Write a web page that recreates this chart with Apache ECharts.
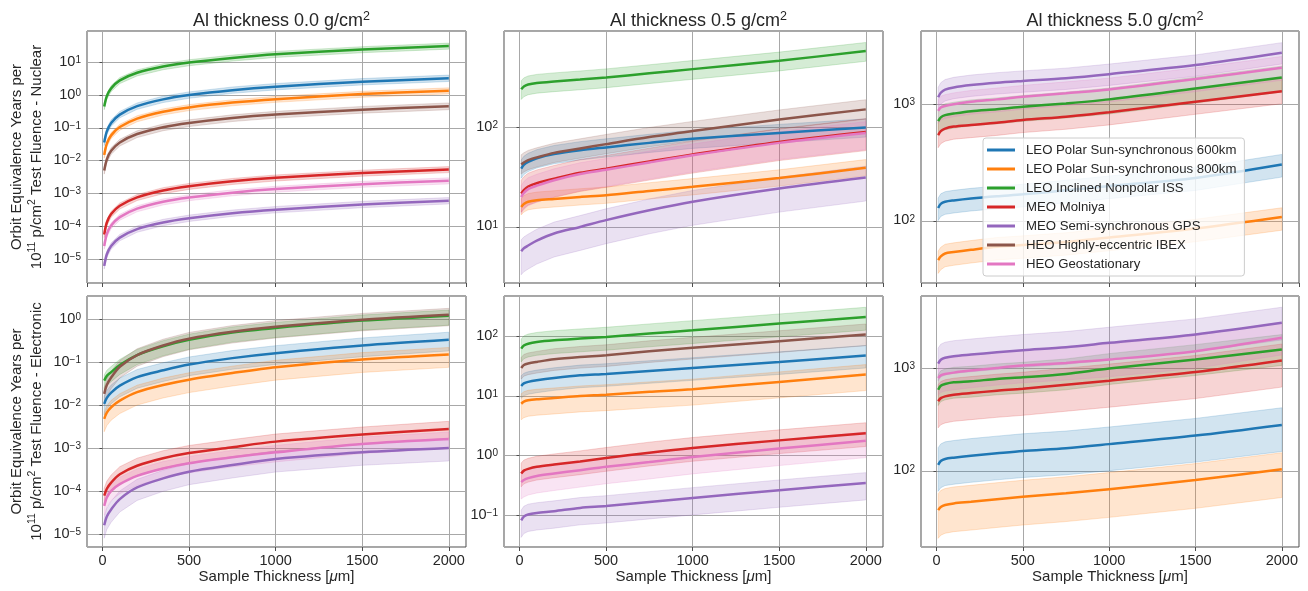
<!DOCTYPE html>
<html>
<head>
<meta charset="utf-8">
<script src="https://cdn.jsdelivr.net/npm/echarts@6/dist/echarts.min.js"></script>
<style>
html, body { margin: 0; padding: 0; background: #fff; }
#chart { width: 1308px; height: 591px; }
</style>
</head>
<body>
<div id="chart"></div>
<script>
// sample thickness [um]
var thickness = [10, 25, 50, 100, 200, 350, 500, 750, 1000, 1500, 2000];

var orbitNames = [
    'LEO Polar Sun-synchronous 600km',
    'LEO Polar Sun-synchronous 800km',
    'LEO Inclined Nonpolar ISS',
    'MEO Molniya',
    'MEO Semi-synchronous GPS',
    'HEO Highly-eccentric IBEX',
    'HEO Geostationary'
];
var orbitColors = ['#1f77b4', '#ff7f0e', '#2ca02c', '#d62728', '#9467bd', '#8c564b', '#e377c2'];
var alLabels = ['0.0', '0.5', '5.0'];

// ==========================
// Nuclear, rows follow orbitNames
// ==========================
var nuc00 = [
    [0.036, 0.078, 0.141, 0.254, 0.46, 0.74, 1.0, 1.41, 1.8, 2.55, 3.25],
    [0.015, 0.033, 0.059, 0.106, 0.192, 0.31, 0.42, 0.59, 0.75, 1.07, 1.36],
    [0.45, 0.93, 1.6, 2.8, 4.8, 7.4, 9.8, 13.6, 17.6, 24.5, 31.5],
    [5.6e-5, 1.3e-4, 2.35e-4, 4.2e-4, 7.6e-4, 1.23e-3, 1.66e-3, 2.35e-3, 3.0e-3, 4.2e-3, 5.4e-3],
    [6.2e-6, 1.4e-5, 2.5e-5, 4.5e-5, 8.2e-5, 1.3e-4, 1.75e-4, 2.5e-4, 3.2e-4, 4.6e-4, 6.0e-4],
    [0.005, 0.011, 0.020, 0.036, 0.065, 0.105, 0.141, 0.20, 0.255, 0.36, 0.46],
    [2.5e-5, 5.8e-5, 1.05e-4, 1.9e-4, 3.45e-4, 5.6e-4, 7.5e-4, 1.06e-3, 1.36e-3, 1.92e-3, 2.45e-3]
];
var nuc00Lo = [0.8, 0.8, 0.8, 0.8, 0.8, 0.78, 0.8];
var nuc00Hi = [1.25, 1.22, 1.22, 1.22, 1.25, 1.25, 1.22];

var nuc05 = [
    [38.6, 42, 45, 49, 54, 59, 63, 70, 77, 88, 100],
    [15.9, 17, 17.9, 18.5, 19.1, 20, 20.8, 23, 25.3, 31, 39.3],
    [242, 258, 270, 280, 290, 303, 318, 350, 386, 469, 586],
    [21.7, 23.5, 25.5, 27.5, 30.5, 35, 38.5, 45.5, 53.5, 71.5, 90],
    [5.7, 6.1, 6.5, 7.3, 8.6, 10, 11.7, 14.7, 17.9, 24.3, 31.4],
    [42.5, 44.5, 47, 50, 55.5, 61.5, 68, 80, 92, 120, 152],
    [20, 22, 24, 26, 29.5, 34, 37.5, 44.5, 52.5, 70, 88]
];
var nuc05Lo = [0.8, 0.83, 0.79, 0.65, 0.58, 0.8, 0.68];
var nuc05Hi = [1.22, 1.21, 1.22, 1.36, 1.3, 1.25, 1.3];

var nuc50 = [
    [129, 140, 146, 150, 156, 163, 169, 183, 199, 234, 305],
    [46, 49.5, 52.5, 54, 56.5, 60, 62, 66, 72, 86, 108],
    [720, 775, 810, 835, 875, 910, 955, 1020, 1105, 1370, 1705],
    [545, 590, 620, 645, 665, 695, 735, 785, 855, 1055, 1300],
    [1150, 1260, 1340, 1400, 1465, 1535, 1590, 1680, 1820, 2180, 2780],
    null,
    [880, 940, 970, 1005, 1055, 1105, 1165, 1250, 1345, 1650, 2065]
];
var nuc50Lo = [0.78, 0.77, 0.75, 0.78, 0.8, 1, 0.78];
var nuc50Hi = [1.22, 1.2, 1.25, 1.3, 1.22, 1, 1.25];

// ==========================
// Electronic
// ==========================
var ele00 = [
    [0.0109, 0.015, 0.020, 0.029, 0.046, 0.066, 0.09, 0.127, 0.165, 0.25, 0.34],
    [0.0049, 0.0068, 0.0091, 0.013, 0.0205, 0.030, 0.040, 0.057, 0.078, 0.118, 0.155],
    [0.038, 0.049, 0.060, 0.088, 0.15, 0.24, 0.34, 0.50, 0.64, 0.95, 1.24],
    [7.9e-5, 1.15e-4, 1.6e-4, 2.5e-4, 3.95e-4, 5.9e-4, 7.8e-4, 1.07e-3, 1.44e-3, 2.1e-3, 2.85e-3],
    [1.62e-5, 2.6e-5, 3.8e-5, 6.6e-5, 1.23e-4, 2.0e-4, 2.86e-4, 4.1e-4, 5.65e-4, 8.1e-4, 1.02e-3],
    [0.0187, 0.030, 0.045, 0.080, 0.15, 0.25, 0.36, 0.52, 0.68, 1.0, 1.31],
    [4.6e-5, 7.2e-5, 1.03e-4, 1.47e-4, 2.3e-4, 3.4e-4, 4.5e-4, 6.2e-4, 8.1e-4, 1.27e-3, 1.66e-3]
];
var ele00Lo = [0.55, 0.5, 0.6, 0.6, 0.5, 0.55, 0.6];
var ele00Hi = [1.5, 1.45, 1.35, 1.5, 1.55, 1.4, 1.45];

var ele05 = [
    [14.7, 16.2, 17.2, 18.3, 20, 22.2, 23.4, 26.3, 29.5, 37, 47.4],
    [7.4, 8.0, 8.45, 8.8, 9.25, 10, 10.5, 11.7, 13, 17.2, 22.8],
    [62, 70, 75, 80, 85.5, 91.5, 97.5, 111, 126, 163, 211],
    [0.5, 0.56, 0.6, 0.65, 0.71, 0.8, 0.91, 1.12, 1.34, 1.8, 2.37],
    [0.082, 0.095, 0.103, 0.109, 0.117, 0.133, 0.143, 0.167, 0.195, 0.262, 0.348],
    [29.4, 33, 35, 37.2, 41.2, 45, 48, 56, 64, 82.5, 107],
    [0.36, 0.39, 0.42, 0.455, 0.5, 0.57, 0.65, 0.78, 0.95, 1.31, 1.78]
];
var ele05Lo = [0.62, 0.54, 0.6, 0.6, 0.52, 0.65, 0.52];
var ele05Hi = [1.48, 1.47, 1.45, 1.5, 1.49, 1.5, 1.4];

var ele50 = [
    [115, 125, 131, 135, 141, 149, 157, 167, 183, 222, 282],
    [41.5, 44.5, 46.5, 48.2, 50, 53, 56, 60.5, 66.5, 81.5, 104],
    [622, 680, 708, 735, 752, 793, 823, 887, 1000, 1225, 1535],
    [480, 515, 536, 556, 577, 608, 636, 697, 763, 927, 1200],
    [1120, 1220, 1275, 1320, 1370, 1445, 1515, 1620, 1785, 2155, 2800],
    null,
    [810, 860, 887, 914, 956, 1015, 1070, 1137, 1225, 1480, 2000]
];
var ele50Lo = [0.55, 0.53, 0.7, 0.55, 0.68, 1, 0.68];
var ele50Hi = [1.47, 1.45, 1.4, 1.45, 1.42, 1, 1.42];

var panels = [
    { mid: nuc00, lo: nuc00Lo, hi: nuc00Hi, row: 0, col: 0, ymin: 1.86e-6, ymax: 90 },
    { mid: nuc05, lo: nuc05Lo, hi: nuc05Hi, row: 0, col: 1, ymin: 2.73, ymax: 933 },
    { mid: nuc50, lo: nuc50Lo, hi: nuc50Hi, row: 0, col: 2, ymin: 29.3, ymax: 4270 },
    { mid: ele00, lo: ele00Lo, hi: ele00Hi, row: 1, col: 0, ymin: 5.05e-6, ymax: 3.56 },
    { mid: ele05, lo: ele05Lo, hi: ele05Hi, row: 1, col: 1, ymin: 0.0294, ymax: 473 },
    { mid: ele50, lo: ele50Lo, hi: ele50Hi, row: 1, col: 2, ymin: 18.1, ymax: 5120 }
];
var rowNames = ['Nuclear', 'Electronic'];

var colLeft = [87, 504, 921];
var colWidth = [379, 379, 378];
var rowTop = [31, 296];
var rowHeight = [252, 251];

var FONT = '"Liberation Sans", Arial, sans-serif';
var TXT = '#262626';

function powLabel(v) {
    var e = Math.round(Math.log10(v));
    return '{b|10}{sup|' + (e < 0 ? '\u2212' + (-e) : e) + '}';
}

function bandRenderer(lo, hi, color) {
    return function (params, api) {
        if (params.dataIndex !== 0) return null;
        var pts = [];
        for (var i = 0; i < thickness.length; i++) pts.push(api.coord([thickness[i], hi[i]]));
        for (var j = thickness.length - 1; j >= 0; j--) pts.push(api.coord([thickness[j], lo[j]]));
        return {
            type: 'polygon',
            silent: true,
            shape: { points: pts },
            style: { fill: color, stroke: color, lineWidth: 1, opacity: 0.2 }
        };
    };
}

var grids = [], xAxes = [], yAxes = [], series = [], titles = [];

panels.forEach(function (p, k) {
    grids.push({
        left: colLeft[p.col], top: rowTop[p.row],
        width: colWidth[p.col], height: rowHeight[p.row],
        show: true, borderColor: '#4d4d4d', borderWidth: 1,
        containLabel: false, outerBoundsMode: 'none'
    });

    xAxes.push({
        gridIndex: k, type: 'value', min: -89.5, max: 2099.5, splitNumber: 5,
        name: p.row === 1 ? 'Sample Thickness [{it|\u03bc}m]' : '',
        nameLocation: 'middle', nameGap: 22,
        nameTextStyle: {
            fontSize: 15, color: TXT, fontFamily: FONT,
            rich: { it: { fontStyle: 'italic', fontSize: 15, color: TXT, fontFamily: FONT } }
        },
        axisLine: { show: false },
        axisTick: { show: true, length: 4, lineStyle: { color: '#4d4d4d' } },
        axisLabel: {
            show: p.row === 1, showMinLabel: false, showMaxLabel: false,
            fontSize: 14.5, color: TXT, fontFamily: FONT, margin: 6,
            formatter: function (v) { return String(v); }
        },
        splitLine: { show: true, lineStyle: { color: '#a8a8a8', width: 1 } }
    });

    var yName = '';
    if (p.col === 0) {
        yName = 'Orbit Equivalence Years per\n{n|10}{sup|11}{n| p/cm}{sup|2}{n| Test Fluence - ' + rowNames[p.row] + '}';
    }
    yAxes.push({
        gridIndex: k, type: 'log', logBase: 10, min: p.ymin, max: p.ymax,
        name: yName, nameLocation: 'middle', nameRotate: 90, nameGap: 40,
        nameTextStyle: {
            fontSize: 15, color: TXT, fontFamily: FONT, lineHeight: 20,
            rich: {
                n: { fontSize: 15, lineHeight: 20, color: TXT, fontFamily: FONT },
                sup: { fontSize: 10.5, lineHeight: 10, verticalAlign: 'top', color: TXT, fontFamily: FONT }
            }
        },
        axisLine: { show: false },
        axisTick: { show: true, length: 3, lineStyle: { color: '#4d4d4d' } },
        axisLabel: {
            showMinLabel: false, showMaxLabel: false, margin: 6,
            formatter: powLabel, color: TXT, fontFamily: FONT,
            rich: {
                b: { fontSize: 14.5, lineHeight: 14, padding: [6, 0, 0, 0], verticalAlign: 'bottom', color: TXT, fontFamily: FONT },
                sup: { fontSize: 10, lineHeight: 10, verticalAlign: 'top', color: TXT, fontFamily: FONT }
            }
        },
        splitLine: { show: true, lineStyle: { color: '#a8a8a8', width: 1 } }
    });

    if (p.row === 0) {
        titles.push({
            text: 'Al thickness ' + alLabels[p.col] + ' g/cm{sup|2}',
            left: colLeft[p.col] + colWidth[p.col] / 2, top: 5, textAlign: 'center',
            textStyle: {
                fontSize: 18, fontWeight: 'normal', color: TXT, fontFamily: FONT, lineHeight: 22,
                rich: { sup: { fontSize: 12.5, lineHeight: 12, verticalAlign: 'top', color: TXT, fontFamily: FONT } }
            }
        });
    }

    p.mid.forEach(function (vals, s) {
        if (!vals) return;
        var lo = vals.map(function (v) { return v * p.lo[s]; });
        var hi = vals.map(function (v) { return v * p.hi[s]; });
        series.push({
            type: 'custom',
            name: orbitNames[s] + ' band',
            xAxisIndex: k, yAxisIndex: k,
            z: 1,
            data: thickness.map(function (x, i) { return [x, lo[i], hi[i]]; }),
            encode: { x: 0, y: [1, 2] },
            renderItem: bandRenderer(lo, hi, orbitColors[s])
        });
        series.push({
            type: 'line',
            name: orbitNames[s],
            xAxisIndex: k, yAxisIndex: k,
            z: 3,
            smooth: 0.3,
            showSymbol: false,
            symbol: 'none',
            color: orbitColors[s],
            lineStyle: { color: orbitColors[s], width: 2.5 },
            data: thickness.map(function (x, i) { return [x, vals[i]]; })
        });
    });
});

var chart = echarts.init(document.getElementById('chart'), null, { renderer: 'canvas' });

chart.setOption({
    animation: false,
    backgroundColor: '#ffffff',
    title: titles,
    grid: grids,
    xAxis: xAxes,
    yAxis: yAxes,
    legend: {
        data: orbitNames,
        left: 983, top: 138,
        orient: 'vertical',
        icon: 'rect',
        itemWidth: 28, itemHeight: 3,
        itemGap: 5,
        padding: [5, 8, 5, 4],
        backgroundColor: 'rgba(255,255,255,0.8)',
        borderColor: '#cccccc', borderWidth: 1, borderRadius: 3,
        textStyle: { fontSize: 13.2, lineHeight: 14, color: TXT, fontFamily: FONT, padding: [0, 0, 0, 6] }
    },
    series: series
});
</script>
</body>
</html>
